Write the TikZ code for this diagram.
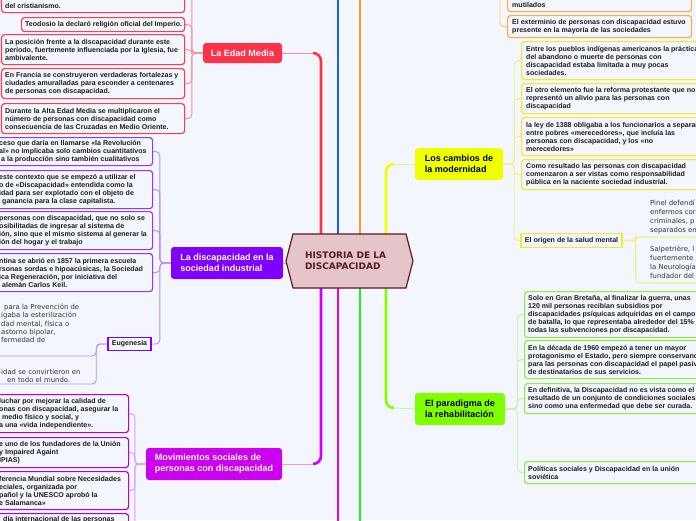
\documentclass[tikz,border=0pt]{standalone}
\usepackage{fontspec}
\setmainfont{Liberation Sans}
\newfontfamily\dejavu{DejaVu Sans}
\usetikzlibrary{calc}
\definecolor{bg}{HTML}{F4F6FE}
\definecolor{txtc}{HTML}{1E1E1E}
\definecolor{redT}{HTML}{FF3344}
\definecolor{redL}{HTML}{FF8C99}
\definecolor{redB}{HTML}{FF3B4D}
\definecolor{blueT}{HTML}{1A5CFF}
\definecolor{oraT}{HTML}{FF9922}
\definecolor{oraB}{HTML}{FFAA44}
\definecolor{oraL}{HTML}{FFC680}
\definecolor{yelT}{HTML}{EEFF00}
\definecolor{yelF}{HTML}{EEFF00}
\definecolor{yelB}{HTML}{EEEE22}
\definecolor{yelL}{HTML}{F0F08A}
\definecolor{vioT}{HTML}{CC00FF}
\definecolor{indF}{HTML}{7F00FF}
\definecolor{indB}{HTML}{8C3CFF}
\definecolor{indL}{HTML}{B68CFF}
\definecolor{movF}{HTML}{CC00EE}
\definecolor{movB}{HTML}{B300D9}
\definecolor{movL}{HTML}{E399F5}
\definecolor{pinkT}{HTML}{FF00CC}
\definecolor{greT}{HTML}{22EE22}
\definecolor{limT}{HTML}{88FF00}
\definecolor{limF}{HTML}{80FF00}
\definecolor{limB}{HTML}{88EE44}
\definecolor{limL}{HTML}{C2F79A}
\definecolor{histF}{HTML}{E5C5C9}
\definecolor{histB}{HTML}{5A1A22}
\definecolor{edadF}{HTML}{FF3347}
\definecolor{grayt}{HTML}{333333}
\tikzset{
 trunk/.style={line width=2.6pt, rounded corners=8pt},
 thinc/.style={line width=1pt},
 conn/.style={line width=0.9pt, rounded corners=4pt},
 boxn/.style={draw=#1, fill=bg, line width=1.2pt, rounded corners=3pt, inner sep=0pt, anchor=north west},
 txt/.style={align=left, inner sep=0pt, text=txtc, font=\bfseries\fontsize{7.05}{8}\selectfont},
 thintxt/.style={align=left, inner sep=0pt, text=grayt, font=\dejavu\fontsize{6.9}{8.3}\selectfont},
 mainn/.style={rounded corners=3pt, inner sep=0pt, align=left, font=\bfseries\fontsize{9}{11}\selectfont},
}
\newcommand\bxn[6]{\node[boxn=#6, minimum width=#4, minimum height=#5] (#1) at (#2,#3) {};}
\newcommand\bxt[3]{\node[txt, anchor=west] at ([xshift=#2]#1.west) {#3};}
\begin{document}
\begin{tikzpicture}[x=1pt,y=-1pt]
\useasboundingbox (0,0) rectangle (696,520);
\fill[bg] (0,0) rectangle (696,520);

% centre
\coordinate (hc) at (349.5,261);
\coordinate (hleft) at (286,261);
\node[inner sep=0pt, minimum width=113, minimum height=54] (hist) at (hc) {};

% main nodes
\node[mainn, fill=edadF, text=white, minimum width=79, minimum height=20] (edad) at (242.5,53) {La Edad Media};
\node[mainn, fill=indF, text=white, minimum width=112, minimum height=32] (ind) at (227,263) {La discapacidad en la\\sociedad industrial};
\node[mainn, fill=movF, text=white, minimum width=136, minimum height=32] (mov) at (214,464) {Movimientos sociales de\\personas con discapacidad};
\node[mainn, fill=yelF, text=black, minimum width=88, minimum height=32] (camb) at (459,164) {Los cambios de\\la modernidad};
\node[mainn, fill=limF, text=black, minimum width=90, minimum height=32] (parad) at (460,409) {El paradigma de\\la rehabilitación};

% trunks
\draw[trunk, redT] (321,0 |- hist.north) -- (321,53) -- (313,53);
\draw[thinc, redL] (313,53) -- (edad.east);
\coordinate (blueTop) at (338,-5);
\coordinate (oraTop) at (360,-5);
\draw[trunk, blueT] (338,0 |- hist.north) -- (blueTop);
\draw[trunk, oraT] (360,0 |- hist.north) -- (oraTop);
\draw[trunk, yelT] (386,0 |- hist.north) -- (386,164) -- (394,164);
\draw[thinc, yelL] (394,164) -- (camb.west);
\draw[trunk, vioT] (321,0 |- hist.south) -- (321,464) -- (313,464);
\draw[thinc, movL] (313,464) -- (mov.east);
\coordinate (pinkBot) at (338,525);
\coordinate (greBot) at (360,525);
\draw[trunk, pinkT] (338,0 |- hist.south) -- (pinkBot);
\draw[trunk, greT] (360,0 |- hist.south) -- (greBot);
\draw[trunk, limT] (386,0 |- hist.south) -- (386,408) -- (394,408);
\draw[thinc, limL] (394,408) -- (parad.west);
\draw[thinc, indL] (ind.east) -- (ind.east -| hleft);

% hexagon
\draw[fill=histF, draw=histB, line width=1.2pt] ($(hc)+(-56.5,-27)$) -- ($(hc)+(56.5,-27)$) -- ($(hc)+(63.5,0)$) -- ($(hc)+(56.5,27)$) -- ($(hc)+(-56.5,27)$) -- ($(hc)+(-63.5,0)$) -- cycle;
\node[inner sep=0pt, align=left, text=histB, font=\dejavu\bfseries\fontsize{9}{11}\selectfont] (histtext) at (345.5,261) {HISTORIA DE LA\\DISCAPACIDAD};

% child boxes
\bxn{e1}{1}{-30}{183}{42}{redB}
\bxn{e2}{21}{17}{163}{14}{redB}
\bxn{e3}{1}{34}{183}{30}{redB}
\bxn{e4}{1}{68}{183}{30}{redB}
\bxn{e5}{1}{103}{183}{30}{redB}
\bxn{iA}{-30}{137}{182}{28}{indB}
\bxn{iB}{-30}{170}{182}{38}{indB}
\bxn{iC}{-30}{211}{182}{38}{indB}
\bxn{iD}{-30}{253}{182}{38}{indB}
\node[draw=indF, fill=bg, line width=1.6pt, inner sep=0pt, minimum width=43, minimum height=13, text=txtc, font=\bfseries\fontsize{7.05}{8}\selectfont] (eug) at (129.5,344) {Eugenesia};
\bxn{m1}{-30}{394}{158}{38}{movB}
\bxn{m2}{-30}{437}{158}{30}{movB}
\bxn{m3}{-30}{471}{158}{38}{movB}
\bxn{m4}{-30}{513}{158}{38}{movB}
\bxn{o1}{507}{-30}{184}{41}{oraB}
\bxn{o2}{507}{15}{184}{22}{oraB}
\bxn{y1}{521}{41}{200}{38}{yelB}
\bxn{y2}{521}{83}{200}{30}{yelB}
\bxn{y3}{521}{117}{200}{38}{yelB}
\bxn{y4}{521}{159}{200}{30}{yelB}
\node[draw=yelB, fill=bg, line width=1.6pt, inner sep=0pt, minimum width=101, minimum height=14, text=txtc, font=\bfseries\fontsize{7.05}{8}\selectfont] (orig) at (571.5,240.5) {El origen de la salud mental};
\bxn{g1}{524}{291}{200}{46}{limB}
\bxn{g2}{524}{340}{200}{38}{limB}
\bxn{g3}{524}{383}{200}{30}{limB}
\bxn{g4}{524}{461}{200}{22}{limB}

% free ends
\coordinate (eu1) at (-5,356);
\coordinate (eu2) at (-5,384);
\coordinate (pinU) at (700,237);
\coordinate (salU) at (700,283);
\coordinate (oTop) at (500,-10);

% connectors
\foreach \c in {e1,e2,e3,e4,e5} \draw[conn, redL] (edad.west) -- ++(-11,0) |- (\c.east);
\foreach \c in {iA,iB,iC,iD,eug} \draw[conn, indL] (ind.west) -- ++(-11,0) |- (\c.east);
\foreach \c in {m1,m2,m3,m4} \draw[conn, movL] (mov.west) -- ++(-11,0) |- (\c.east);
\foreach \c in {y1,y2,y3,y4,orig} \draw[conn, yelL] (camb.east) -- ++(11,0) |- (\c.west);
\foreach \c in {g1,g2,g3,g4} \draw[conn, limL] (parad.east) -- ++(12,0) |- (\c.west);
\foreach \c in {eu1,eu2} \draw[conn, indL] (eug.west) -- ++(-11,0) |- (\c);
\foreach \c in {pinU,salU} \draw[conn, yelL, line width=1.2pt] (orig.east) -- ++(13,0) |- (\c);
\draw[conn, oraL] (oTop) |- (o2.west);

% texts
\node[txt, anchor=south west] at ([xshift=4,yshift=4]e1.south west) {del cristianismo.};
\bxt{e2}{4}{Teodosio la declaró religión oficial del Imperio.}
\bxt{e3}{4}{La posición frente a la discapacidad durante este\\período, fuertemente influenciada por la Iglesia, fue\\ambivalente.}
\bxt{e4}{4}{En Francia se construyeron verdaderas fortalezas y\\ciudades amuralladas para esconder a centenares\\de personas con discapacidad.}
\bxt{e5}{4}{Durante la Alta Edad Media se multiplicaron el\\número de personas con discapacidad como\\consecuencia de las Cruzadas en Medio Oriente.}
\bxt{iA}{29}{ceso que daría en llamarse «la Revolución\\al» no implicaba solo cambios cuantitativos\\\hspace*{2pt}a la producción sino también cualitativos}
\bxt{iB}{29}{este contexto que se empezó a utilizar el\\o de «Discapacidad» entendida como la\\idad para ser explotado con el objeto de\\\hspace*{3pt}ganancia para la clase capitalista.}
\bxt{iC}{29}{personas con discapacidad, que no solo se\\osibilitadas de ingresar al sistema de\\ión, sino que el mismo sistema al generar la\\ión del hogar y el trabajo}
\bxt{iD}{29}{ntina se abrió en 1857 la primera escuela\\rsonas sordas e hipoacúsicas, la Sociedad\\ica Regeneración, por iniciativa del\\\hspace*{3pt}alemán Carlos Keil.}
\node[thintxt, anchor=west] (eut1) at (1,323.5) {\hspace*{3pt}para la Prevención de\\igaba la esterilización\\dad mental, física o\\astorno bipolar,\\fermedad de};
\node[thintxt, anchor=west] (eut2) at (1,376) {idad se convirtieron en\\\hspace*{6pt}en todo el mundo.};
\bxt{m1}{29}{luchar por mejorar la calidad de\\onas con discapacidad, asegurar la\\\hspace*{3pt}medio físico y social, y\\a una «vida independiente».}
\bxt{m2}{29}{e uno de los fundadores de la Unión\\y Impaired Againt\\IPIAS)}
\bxt{m3}{29}{ferencia Mundial sobre Necesidades\\eciales, organizada por\\pañol y la UNESCO aprobó la\\e Salamanca»}
\node[txt, anchor=north west] at ([xshift=33,yshift=-3]m4.north west) {día internacional de las personas};
\node[txt, anchor=south west] at ([xshift=5,yshift=4]o1.south west) {mutilados};
\bxt{o2}{5}{El exterminio de personas con discapacidad estuvo\\presente en la mayoría de las sociedades}
\bxt{y1}{5}{Entre los pueblos indígenas americanos la práctica\\del abandono o muerte de personas con\\discapacidad estaba limitada a muy pocas\\sociedades.}
\bxt{y2}{5}{El otro elemento fue la reforma protestante que no\\representó un alivio para las personas con\\discapacidad}
\bxt{y3}{5}{la ley de 1388 obligaba a los funcionarios a separar\\entre pobres «merecedores», que incluía las\\personas con discapacidad, y los «no\\merecedores»}
\bxt{y4}{5}{Como resultado las personas con discapacidad\\comenzaron a ser vistas como responsabilidad\\pública en la naciente sociedad industrial.}
\node[thintxt, anchor=west, font=\dejavu\fontsize{6.9}{9}\selectfont] (pinel) at (650,216.5) {Pinel defendí\\enfermos cor\\criminales, p\\separados en};
\node[thintxt, anchor=west, font=\dejavu\fontsize{6.9}{9}\selectfont] (salp) at (650,262.5) {Salpetrière, l\\fuertemente\\la Neurología\\fundador del};
\bxt{g1}{4}{Solo en Gran Bretaña, al finalizar la guerra, unas\\120 mil personas recibían subsidios por\\discapacidades psíquicas adquiridas en el campo\\de batalla, lo que representaba alrededor del 15\% de\\todas las subvenciones por discapacidad.}
\bxt{g2}{4}{En la década de 1960 empezó a tener un mayor\\protagonismo el Estado, pero siempre conservando\\para las personas con discapacidad el papel pasivo\\de destinatarios de sus servicios.}
\bxt{g3}{4}{En definitiva, la Discapacidad no es vista como el\\resultado de un conjunto de condiciones sociales,\\sino como una enfermedad que debe ser curada.}
\bxt{g4}{4}{Políticas sociales y Discapacidad en la unión\\soviética}
\end{tikzpicture}
\end{document}
